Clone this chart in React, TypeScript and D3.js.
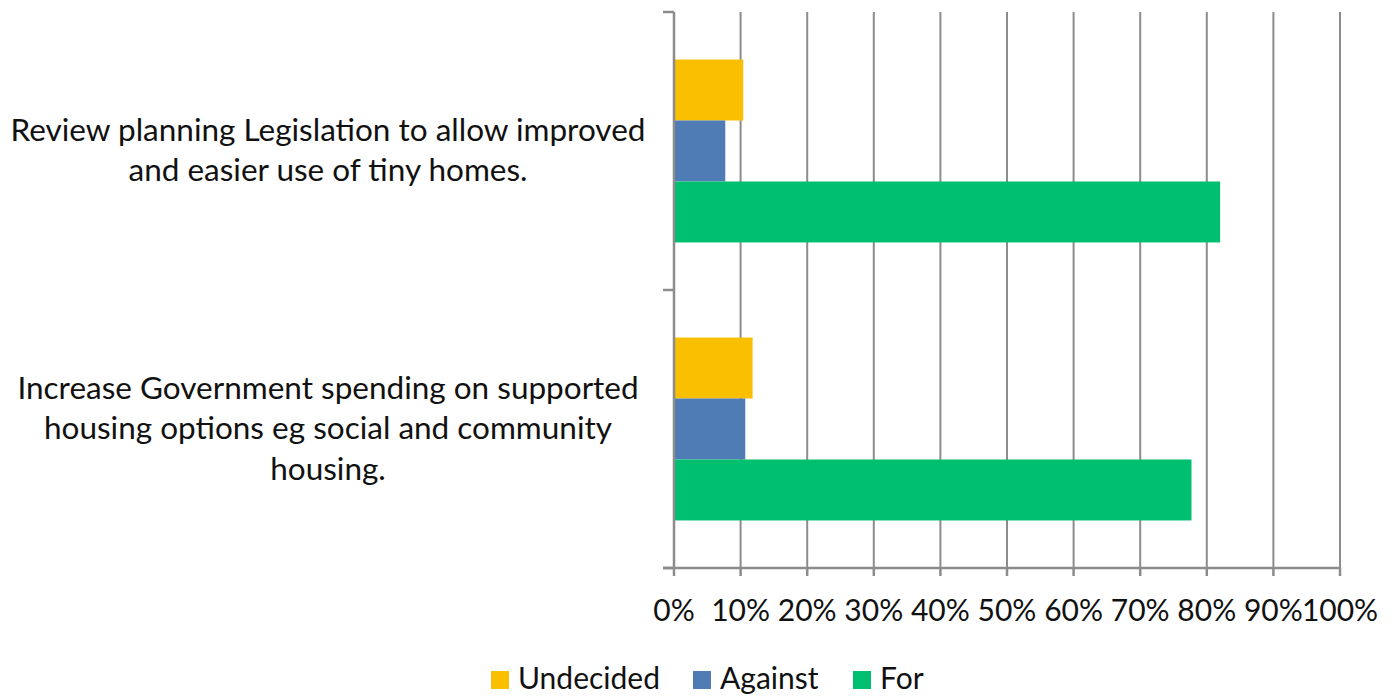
import React from "react";
import * as d3 from "d3";

const categories = [
  "Review planning Legislation to allow improved and easier use of tiny homes.",
  "Increase Government spending on supported housing options eg social and community housing.",
];
const categoryLines = [
  ["Review planning Legislation to allow improved", "and easier use of tiny homes."],
  ["Increase Government spending on supported", "housing options eg social and community", "housing."],
];
const seriesNames = ["Undecided", "Against", "For"];
const undecided = [10.4, 11.8];
const against = [7.7, 10.7];
const forVals = [82.0, 77.7];
const tickValues = [0, 10, 20, 30, 40, 50, 60, 70, 80, 90, 100];
const tickLabels = ["0%", "10%", "20%", "30%", "40%", "50%", "60%", "70%", "80%", "90%", "100%"];
const colors = ["#FABF00", "#4F7CB4", "#00BF6F"];

const W = 1397;
const H = 697;
const plotLeft = 674;
const plotRight = 1340;
const plotTop = 12;
const plotBottom = 568;
const FONT = "Lato, 'Open Sans', sans-serif";

export default function App() {
  const x = d3.scaleLinear().domain([0, 100]).range([plotLeft, plotRight]);
  const y = d3.scaleBand<string>().domain(categories).range([plotTop, plotBottom]).paddingInner(0).paddingOuter(0);
  const inner = d3
    .scaleBand<string>()
    .domain(seriesNames)
    .range([0, y.bandwidth()])
    .paddingInner(0)
    .paddingOuter(0.78);
  const values = [undecided, against, forVals];
  const gridColor = "#8c8c8c";
  const labelSize = 31.5;
  const tickSize = 30;
  const legendSize = 30;
  const lineH = 40.5;

  const legendItems = [
    { name: seriesNames[0], sx: 491, tx: 518 },
    { name: seriesNames[1], sx: 693, tx: 720 },
    { name: seriesNames[2], sx: 853, tx: 880 },
  ];

  return (
    <svg
      width={W}
      height={H}
      style={{ position: "absolute", left: 0, top: 0, background: "#fff" }}
      fontFamily={FONT}
    >
      {tickValues.slice(1).map((t) => (
        <line key={"g" + t} x1={x(t)} x2={x(t)} y1={plotTop} y2={plotBottom} stroke={gridColor} strokeWidth={2} />
      ))}
      {categories.map((c, ci) =>
        seriesNames.map((s, si) => (
          <rect
            key={c + s}
            x={x(0)}
            y={(y(c) as number) + (inner(s) as number)}
            width={x(values[si][ci]) - x(0)}
            height={inner.bandwidth()}
            fill={colors[si]}
          />
        ))
      )}
      <line x1={plotLeft} x2={plotLeft} y1={plotTop} y2={plotBottom} stroke={gridColor} strokeWidth={2.5} />
      {[plotTop, (y(categories[1]) as number), plotBottom].map((yy, i) => (
        <line key={"yt" + i} x1={plotLeft - 11} x2={plotLeft} y1={yy} y2={yy} stroke={gridColor} strokeWidth={2.5} />
      ))}
      <line x1={plotLeft - 11} x2={plotRight} y1={plotBottom} y2={plotBottom} stroke={gridColor} strokeWidth={2.5} />
      {tickValues.map((t) => (
        <line key={"xt" + t} x1={x(t)} x2={x(t)} y1={plotBottom} y2={plotBottom + 8} stroke={gridColor} strokeWidth={2.5} />
      ))}
      {tickValues.map((t, i) => (
        <text key={"xl" + t} x={x(t)} y={621} textAnchor="middle" fontSize={tickSize} fill="#111">
          {tickLabels[i]}
        </text>
      ))}
      {categories.map((c, ci) => {
        const lines = categoryLines[ci];
        const cy = (y(c) as number) + y.bandwidth() / 2;
        const startY = cy - ((lines.length - 1) * lineH) / 2;
        return (
          <text key={"cl" + ci} textAnchor="middle" fontSize={labelSize} fill="#111">
            {lines.map((ln, li) => (
              <tspan key={li} x={328} y={startY + li * lineH + 10}>
                {ln}
              </tspan>
            ))}
          </text>
        );
      })}
      {legendItems.map((it, i) => (
        <g key={"lg" + i}>
          <rect x={it.sx} y={671} width={18} height={18} fill={colors[i]} />
          <text x={it.tx} y={689} fontSize={legendSize} fill="#111">
            {it.name}
          </text>
        </g>
      ))}
    </svg>
  );
}
